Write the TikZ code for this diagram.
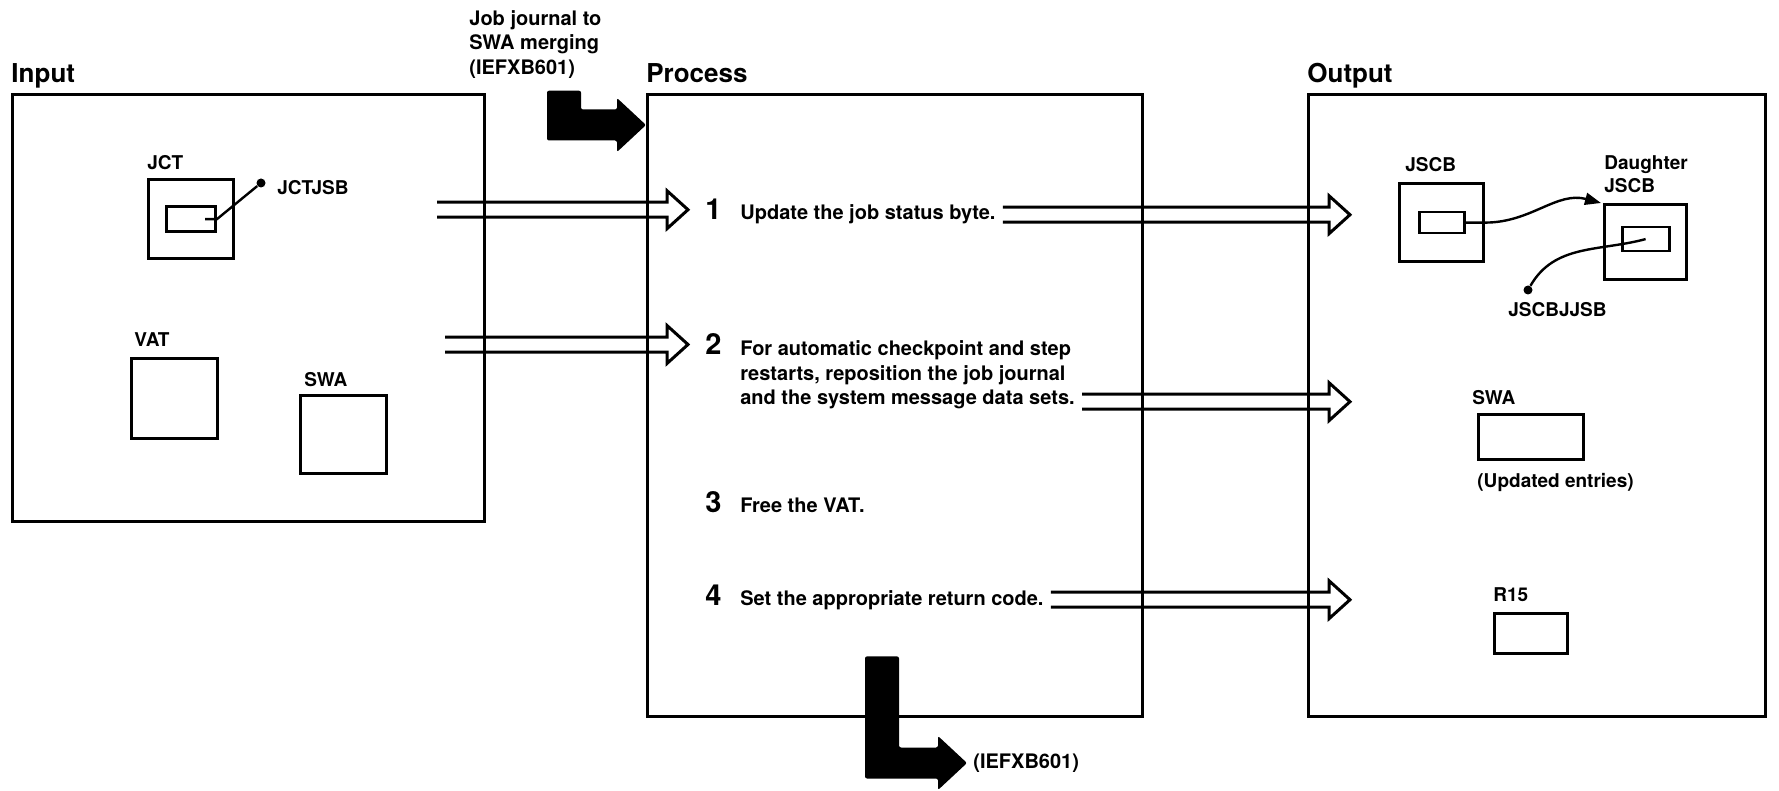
\documentclass[tikz,border=0pt]{standalone}
\usepackage{fontspec}
\setmainfont{TeX Gyre Heros}
\usetikzlibrary{positioning,calc,arrows.meta}

\tikzset{
  panel/.style={draw, line width=1.7pt, inner sep=0, anchor=north west},
  databox/.style={draw, line width=1.6pt, inner sep=0, anchor=north west},
  field/.style={draw, line width=1.4pt, inner sep=0},
  paneltitle/.style={font=\fontsize{13}{15}\selectfont\bfseries, inner sep=0, anchor=base west},
  lbl/.style={font=\fontsize{9.5}{11.5}\selectfont\bfseries, inner sep=0, align=left},
  stepnum/.style={font=\fontsize{14.5}{16}\selectfont\bfseries, inner sep=0, anchor=base west},
  steptext/.style={font=\fontsize{10}{12.25}\selectfont\bfseries, inner sep=0, align=left},
  hollow/.style={line width=1.5pt, line join=miter},
  ptr/.style={line width=1.2pt},
  ptrdot/.style={circle, fill, inner sep=0, minimum size=4.5pt},
}

% open double-line arrow, drawn at the height of its end point
\newcommand\hollowarrow[2]{%
  \draw[hollow] let \p1=(#1), \p2=(#2) in
    (\x1,\y2+3.75pt) -- (\x2-10.5pt,\y2+3.75pt) -- (\x2-10.5pt,\y2+9.5pt) -- (\x2,\y2)
    -- (\x2-10.5pt,\y2-9.5pt) -- (\x2-10.5pt,\y2-3.75pt) -- (\x1,\y2-3.75pt);}

% solid L-shaped arrow, from the top of its bar to its tip
\newcommand\blockarrow[2]{%
  \fill[rounded corners=1pt] let \p1=(#1), \p2=(#2) in
    (\x1-8.5pt,\y1) -- (\x1+8.5pt,\y1) -- (\x1+8.5pt,\y2+7.75pt) -- (\x2-14.5pt,\y2+7.75pt)
    -- (\x2-14.5pt,\y2+13.5pt) -- (\x2,\y2) -- (\x2-14.5pt,\y2-13.5pt) -- (\x2-14.5pt,\y2-7.75pt)
    -- (\x1-8.5pt,\y2-7.75pt) -- cycle;}

\begin{document}
\begin{tikzpicture}[x=0.5pt,y=-0.5pt]
\useasboundingbox (0,0) rectangle (1779,791);

% panels
\node[panel, minimum width=236pt, minimum height=213.5pt] (inbox) at (11,93) {};
\node[panel, minimum width=247.5pt, minimum height=311pt] (procbox) at (646,93) {};
\node[panel, minimum width=228.5pt, minimum height=311pt] (outbox) at (1307,93) {};
\node[paneltitle] (intitle) at ([yshift=5pt]inbox.north west) {Input};
\node[paneltitle] (proctitle) at ([yshift=5pt]procbox.north west) {Process};
\node[paneltitle] (outtitle) at ([yshift=5pt]outbox.north west) {Output};

% input
\node[databox, minimum width=42.5pt, minimum height=39.5pt] (jct) at (147,178) {};
\node[field, minimum width=24.5pt, minimum height=12.5pt] (jctf) at (jct.center) {};
\node[lbl, above right=4pt and 0pt of jct.north west] (jctlbl) {JCT};
\node[ptrdot] (jdot) at (261,183) {};
\node[lbl, right=5.5pt of jdot, yshift=-2.5pt] (jsblbl) {JCTJSB};
\draw[ptr] ([xshift=-6pt]jctf.east) -- (jctf.east) -- (jdot);
\node[databox, minimum width=43pt, minimum height=40pt] (vat) at (130,357) {};
\node[lbl, above right=5pt and 2pt of vat.north west] (vatlbl) {VAT};
\node[databox, minimum width=43pt, minimum height=39pt] (swain) at (299,394) {};
\node[lbl, above right=3.5pt and 2.5pt of swain.north west] (swainlbl) {SWA};

% entry from IEFXB601
\node[steptext, anchor=north west] (jin) at (469,10) {Job journal to\\SWA merging\\(IEFXB601)};
\blockarrow{$(jin.south west)+(95,12)$}{$(procbox.north west)+(0,32)$}

% process steps
\node[stepnum] (n1) at (705,220) {1};
\node[steptext, anchor=base west] (t1) at ([xshift=9pt]n1.base east) {Update the job status byte.};
\node[stepnum] (n2) at (705,355) {2};
\node[steptext, anchor=north west] (t2) at ([xshift=9pt,yshift=7.2pt]n2.base east)
  {For automatic checkpoint and step\\restarts, reposition the job journal\\and the system message data sets.};
\node[stepnum] (n3) at (705,512) {3};
\node[steptext, anchor=base west] (t3) at ([xshift=9pt]n3.base east) {Free the VAT.};
\node[stepnum] (n4) at (705,605) {4};
\node[steptext, anchor=base west] (t4) at ([xshift=9pt]n4.base east) {Set the appropriate return code.};

\coordinate (a1) at (437,208);
\coordinate (a2) at (445,345);
\hollowarrow{a1}{[xshift=-8.5pt]n1.west}
\hollowarrow{a2}{[xshift=-8.5pt]n2.west}
\coordinate (b2) at ($(t2.south east)+(3.5pt,4pt)$);
\hollowarrow{[xshift=3.5pt]t1.east}{$(t1.east -| outbox.west)+(21.5pt,0)$}
\hollowarrow{b2}{$(b2 -| outbox.west)+(21.5pt,0)$}
\hollowarrow{[xshift=3.5pt]t4.east}{$(t4.east -| outbox.west)+(21.5pt,0)$}

% return
\node[steptext, anchor=west] (xout) at (973,763) {(IEFXB601)};
\blockarrow{$(procbox.south west)+(236,-62)$}{[xshift=-3pt]xout.west}

% output
\node[databox, minimum width=42pt, minimum height=39pt] (jscb) at (1398,182) {};
\node[field, minimum width=22.5pt, minimum height=10.5pt] (jscbf) at (jscb.center) {};
\node[lbl, above right=5pt and 3.5pt of jscb.north west] (jscblbl) {JSCB};
\node[databox, minimum width=41pt, minimum height=37.5pt] (dau) at (1603,203) {};
\node[field, minimum width=23.5pt, minimum height=12pt] (dauf) at ([yshift=1.5pt]dau.center) {};
\node[lbl, above right=5pt and 0.5pt of dau.north west] (daulbl) {Daughter\\JSCB};
\draw[ptr, -{Triangle[length=8pt,width=6pt]}] (jscbf.east) -- (jscbf.east -| jscb.east)
  to[out=0,in=165] ([xshift=-1pt]dau.north west);
\node[ptrdot] (jdot2) at (1528,290) {};
\draw[ptr] (dauf.center) to[out=195,in=60] (jdot2);
\node[lbl, anchor=north west] (jjsblbl) at ([xshift=-10pt,yshift=-6pt]jdot2.center) {JSCBJJSB};
\node[databox, minimum width=52.5pt, minimum height=22.5pt] (swaout) at (1477,413) {};
\node[lbl, above right=4pt and -2.5pt of swaout.north west] (swaoutlbl) {SWA};
\node[lbl, below right=6pt and 0pt of swaout.south west] (updlbl) {(Updated entries)};
\node[databox, minimum width=36.5pt, minimum height=20pt] (r15) at (1493,612) {};
\node[lbl, above right=5pt and 0pt of r15.north west] (r15lbl) {R15};
\end{tikzpicture}
\end{document}
